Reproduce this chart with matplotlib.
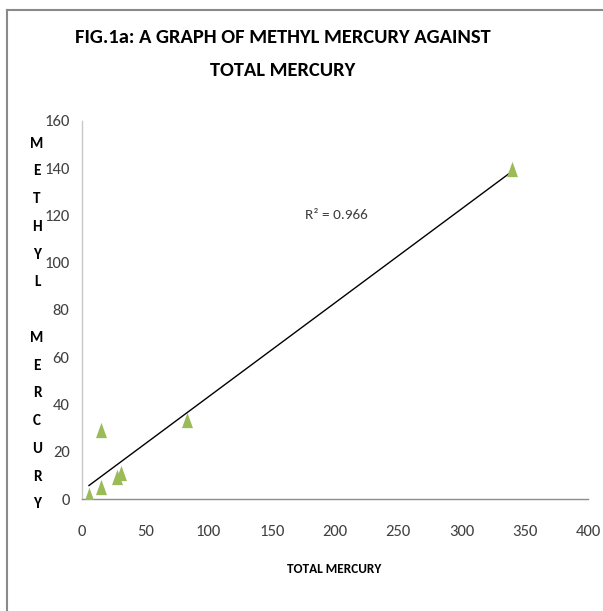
import numpy as np
import matplotlib
matplotlib.use("Agg")
import matplotlib.pyplot as plt
from matplotlib.lines import Line2D
from matplotlib import font_manager

names = {f.name for f in font_manager.fontManager.ttflist}
FONT = "DejaVu Sans"
for cand in ["Carlito", "Roboto Condensed", "PT Sans Narrow", "Archivo Narrow",
             "Open Sans Condensed", "Liberation Sans Narrow"]:
    if cand in names:
        FONT = cand
        break
plt.rcParams['font.family'] = [FONT, 'DejaVu Sans']

# Data
total_mercury = [5.5, 14.8, 14.8, 27.9, 30.8, 82.8, 340.0]
methyl_mercury = [1.7, 5.2, 29.3, 9.5, 11.2, 33.5, 139.6]
x_ticks = [0, 50, 100, 150, 200, 250, 300, 350, 400]
y_ticks = [0, 20, 40, 60, 80, 100, 120, 140, 160]
r2_label = "R² = 0.966"
title = "FIG.1a: A GRAPH OF METHYL MERCURY AGAINST\nTOTAL MERCURY"
xlabel = "TOTAL MERCURY"
ylabel_letters = ["M", "E", "T", "H", "Y", "L", "", "M", "E", "R", "C", "U", "R", "Y"]

fig = plt.figure(figsize=(6.03, 6.11), dpi=100)
ax = fig.add_axes([0.136, 0.1833, 0.839, 0.6187])

tri = [(-0.72, -1.0), (0.72, -1.0), (0.0, 1.0), (-0.72, -1.0)]

x = np.array(total_mercury)
y = np.array(methyl_mercury)
m, b = np.polyfit(x, y, 1)
xs = np.array([x.min(), x.max()])
ax.plot(xs, m * xs + b, color="black", lw=1.0, zorder=2)
ax.plot(x, y, linestyle="none", marker=tri, ms=11, color="#9bbb59",
        markeredgewidth=0, zorder=3)

ax.set_xlim(0, 400)
ax.set_ylim(0, 160)
ax.set_xticks(x_ticks)
ax.set_yticks(y_ticks)
ax.tick_params(length=0, labelsize=12, labelcolor="#404040", pad=9)
ax.tick_params(axis="x", pad=19)
for s in ["top", "right"]:
    ax.spines[s].set_visible(False)
ax.spines["left"].set_color("#c8c8c8")
ax.spines["bottom"].set_color("#8c8c8c")
ax.spines["left"].set_linewidth(1.0)
ax.spines["bottom"].set_linewidth(1.0)

ax.text(176, 120, r2_label, fontsize=11, color="#404040", va="center", ha="left")

fig.text(283 / 603, 1 - 54 / 611, title, ha="center", va="center",
         fontsize=14.8, fontweight="bold", linespacing=2.2, color="black")
fig.text(334 / 603, 1 - 569 / 611, xlabel, ha="center", va="center",
         fontsize=9.5, fontweight="bold", color="black")
fig.text(37 / 603, 1 - 324 / 611, "\n".join(ylabel_letters),
         ha="center", va="center", fontsize=11, fontweight="bold",
         linespacing=2.25, color="black")

# outer frame (top and left)
fig.add_artist(Line2D([7 / 603, 1.0], [1 - 10 / 611, 1 - 10 / 611],
                      transform=fig.transFigure, color="#8a8a8a", lw=1.5))
fig.add_artist(Line2D([7 / 603, 7 / 603], [1 - 10 / 611, 0],
                      transform=fig.transFigure, color="#8a8a8a", lw=1.5))

fig.savefig("out.png", dpi=100)
